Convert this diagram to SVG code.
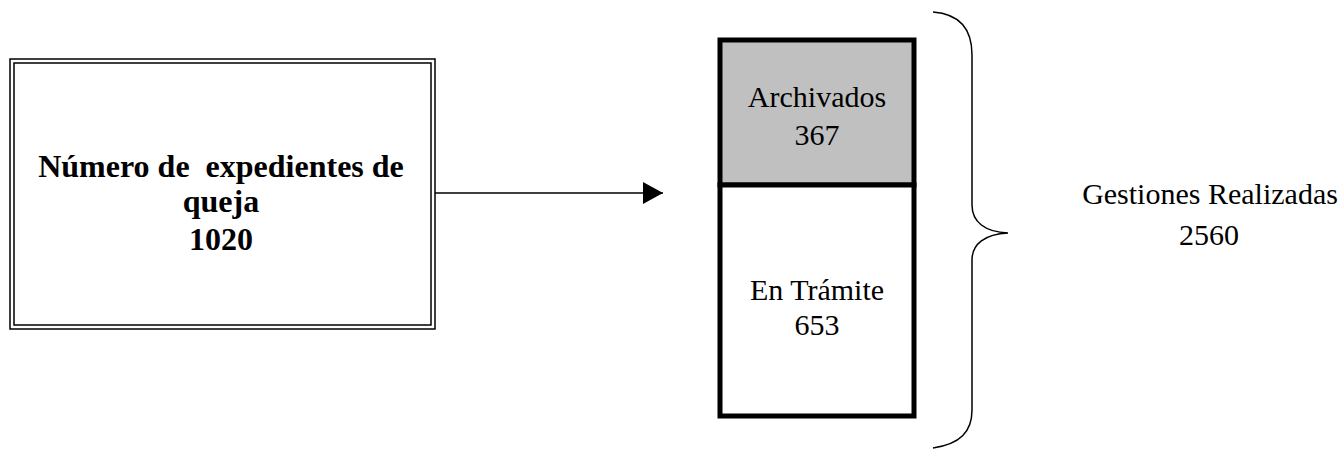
<svg xmlns="http://www.w3.org/2000/svg" width="1343" height="450" viewBox="0 0 1343 450">
<style>
.t{font-family:"Liberation Serif","Times New Roman",serif;font-size:30px;fill:#000;text-anchor:middle}
.b{font-weight:bold;font-size:32px}
.ln{fill:none;stroke:#000}
</style>
<defs>
<marker id="ah" markerWidth="20" markerHeight="22" refX="20" refY="11" orient="auto" markerUnits="userSpaceOnUse">
<path d="M0,0 L20,11 L0,22 Z" fill="#000"/>
</marker>
</defs>
<rect width="1343" height="450" fill="#fff"/>
<g id="node-quejas">
<rect x="10" y="59" width="425" height="270" class="ln" stroke-width="1.5"/>
<rect x="14" y="63" width="417" height="262" class="ln" stroke-width="1.5"/>
<text class="t b" x="221" y="177" xml:space="preserve">Número de  expedientes de</text>
<text class="t b" x="221" y="212">queja</text>
<text class="t b" x="221" y="250">1020</text>
</g>
<g id="connectors">
<line x1="435" y1="193" x2="663" y2="193" class="ln" stroke-width="1.5" marker-end="url(#ah)"/>
</g>
<g id="node-archivados">
<rect x="720" y="40" width="194" height="145" fill="#c0c0c0" stroke="#000" stroke-width="5"/>
<text class="t" x="817" y="107">Archivados</text>
<text class="t" x="817" y="145">367</text>
</g>
<g id="node-tramite">
<rect x="720" y="185" width="194" height="231" fill="#fff" stroke="#000" stroke-width="5"/>
<text class="t" x="817" y="300">En Trámite</text>
<text class="t" x="817" y="335">653</text>
</g>
<g id="brace">
<path class="ln" stroke-width="1.5" d="M933,12 C960,14 972,30 972,55 L972,205 C972,222 985,232 1008,233 C985,234 972,244 972,260 L972,410 C972,432 960,444 933,448"/>
</g>
<g id="node-gestiones">
<text class="t" x="1210" y="204">Gestiones Realizadas</text>
<text class="t" x="1209" y="245">2560</text>
</g>
</svg>
